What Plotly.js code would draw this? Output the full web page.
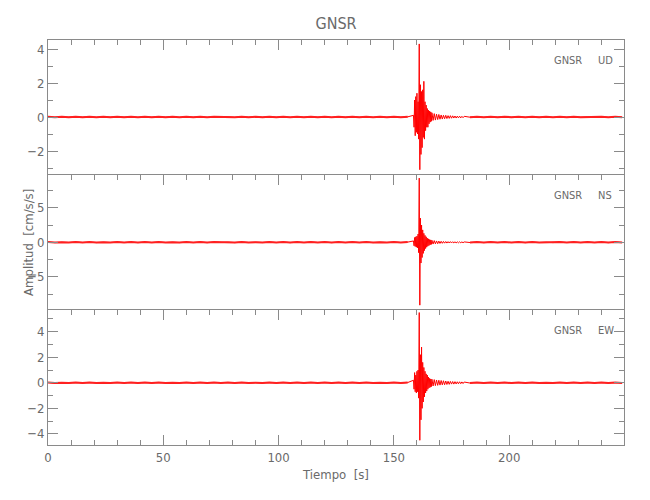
<!DOCTYPE html>
<html>
<head>
<meta charset="utf-8">
<script src="https://cdn.plot.ly/plotly-3.0.1.min.js"></script>
<style>html,body{margin:0;padding:0;background:#fff;} #chart{width:650px;height:500px;}</style>
</head>
<body>
<div id="chart"></div>
<script>
// ---- Data (amplitudes in cm/s/s) ----
// sampling grids: pre-event noise, burst, coda, post-event noise (start, step in s)
var preStart = 0,    preStep = 3;
var burstStart = 158.5, burstStep = 0.25;
var codaStart = 167, codaStep = 0.5;
var postStart = 183, postStep = 3;

var stationName = "GNSR";
var componentNames = ["UD", "NS", "EW"];

// UD component
var udPre = [0.01,-0.02,0.01,-0.01,0.02,-0.01,0.01,-0.02,0.01,-0.01,0.02,-0.01,0.01,-0.02,0.01,-0.01,0.02,-0.01,0.01,-0.02,0.01,-0.01,0.02,-0.02,0.01,-0.01,0.01,-0.02,0.02,-0.01,0.01,-0.01,0.02,-0.01,0.01,-0.02,0.01,-0.01,0.02,-0.01,0.01,-0.02,0.01,-0.01,0.02,-0.01,0.01,-0.02,0.01,-0.01,0.02,-0.01,0.01];
var udBurst = [0.1,-0.6,1.0,-1.1,1.2,-0.9,1.4,-1.0,0.9,-1.3,4.3,-3.1,1.9,-2.2,1.5,-1.8,1.6,-1.2,2.1,-1.3,0.9,-0.8,0.7,-0.6,0.5,-0.6,0.4,-0.4,0.35,-0.3,0.3,-0.25,0.25];
var udCoda = [-0.2,0.2,-0.18,0.17,-0.15,0.15,-0.13,0.12,-0.12,0.1,-0.1,0.1,-0.09,0.08,-0.08,0.08,-0.07,0.07,-0.06,0.06,-0.06,0.05,-0.05,0.05,-0.05,0.04,-0.04,0.04];
var udPost = [-0.01,0.01,-0.02,0.01,-0.01,0.02,-0.01,0.01,-0.02,0.01,-0.01,0.01,-0.02,0.01,-0.01,0.02,-0.01,0.01,-0.01,0.01,-0.02,0.01,-0.01];

// NS component
var nsPre = [0.03,-0.04,0.02,-0.03,0.04,-0.03,0.03,-0.04,0.02,-0.03,0.04,-0.03,0.03,-0.04,0.03,-0.03,0.04,-0.03,0.02,-0.04,0.03,-0.03,0.04,-0.04,0.03,-0.02,0.03,-0.04,0.04,-0.03,0.02,-0.03,0.04,-0.03,0.03,-0.04,0.03,-0.03,0.04,-0.02,0.03,-0.04,0.03,-0.03,0.04,-0.03,0.03,-0.04,0.02,-0.03,0.04,-0.03,0.03];
var nsBurst = [0.2,-0.5,0.7,-0.6,0.8,-0.7,0.9,-0.8,1.2,-1.5,9.3,-9.1,3.5,-3.0,2.5,-2.2,1.8,-1.6,1.3,-1.2,1.0,-0.9,0.8,-0.7,0.6,-0.55,0.5,-0.45,0.4,-0.35,0.35,-0.3,0.3];
var nsCoda = [-0.25,0.25,-0.22,0.2,-0.2,0.18,-0.16,0.15,-0.14,0.13,-0.12,0.12,-0.11,0.1,-0.1,0.1,-0.09,0.09,-0.08,0.08,-0.08,0.07,-0.07,0.07,-0.06,0.06,-0.06,0.06];
var nsPost = [-0.03,0.03,-0.04,0.03,-0.02,0.04,-0.03,0.03,-0.04,0.03,-0.03,0.02,-0.04,0.03,-0.03,0.04,-0.03,0.03,-0.02,0.03,-0.04,0.03,-0.03];

// EW component
var ewPre = [0.02,-0.02,0.01,-0.02,0.02,-0.02,0.02,-0.02,0.01,-0.02,0.02,-0.01,0.02,-0.02,0.02,-0.02,0.02,-0.02,0.01,-0.02,0.02,-0.02,0.02,-0.02,0.02,-0.01,0.02,-0.02,0.02,-0.02,0.01,-0.02,0.02,-0.02,0.02,-0.02,0.02,-0.02,0.02,-0.01,0.02,-0.02,0.02,-0.02,0.02,-0.02,0.02,-0.02,0.01,-0.02,0.02,-0.02,0.02];
var ewBurst = [0.2,-0.5,0.8,-0.7,0.6,-0.8,0.9,-0.7,1.0,-1.2,5.5,-4.5,2.2,-2.9,2.8,-2.0,1.6,-1.5,1.2,-1.1,0.9,-0.8,0.7,-0.65,0.6,-0.5,0.45,-0.4,0.35,-0.35,0.3,-0.3,0.28];
var ewCoda = [-0.25,0.25,-0.22,0.22,-0.2,0.2,-0.18,0.18,-0.16,0.16,-0.15,0.14,-0.13,0.12,-0.12,0.11,-0.1,0.1,-0.1,0.09,-0.09,0.08,-0.08,0.08,-0.07,0.07,-0.06,0.06];
var ewPost = [-0.02,0.02,-0.02,0.02,-0.01,0.02,-0.02,0.02,-0.02,0.02,-0.02,0.01,-0.02,0.02,-0.02,0.02,-0.02,0.02,-0.01,0.02,-0.02,0.02,-0.02];

// ---- assemble traces (time = sample grid) ----
function segment(start, step, vals, tOut, aOut) {
  for (var i = 0; i < vals.length; i++) { tOut.push(start + i * step); aOut.push(vals[i]); }
}
function buildTrace(pre, burst, coda, post) {
  var t = [], a = [];
  segment(preStart, preStep, pre, t, a);
  segment(burstStart, burstStep, burst, t, a);
  segment(codaStart, codaStep, coda, t, a);
  segment(postStart, postStep, post, t, a);
  return {t: t, a: a};
}
function buildNoise(pre, post) {
  var t = [], a = [];
  segment(preStart, preStep, pre, t, a);
  t.push(null); a.push(null);
  segment(postStart, postStep, post, t, a);
  return {t: t, a: a};
}
var comps = [
  buildTrace(udPre, udBurst, udCoda, udPost),
  buildTrace(nsPre, nsBurst, nsCoda, nsPost),
  buildTrace(ewPre, ewBurst, ewCoda, ewPost)
];
var noises = [
  buildNoise(udPre, udPost),
  buildNoise(nsPre, nsPost),
  buildNoise(ewPre, ewPost)
];
// panel order top->bottom: UD (x3/y3), NS (x2/y2), EW (x/y)
var axisIds = [["x3","y3"],["x2","y2"],["x","y"]];

var traces = [];
comps.forEach(function(c, i) {
  traces.push({x: c.t, y: c.a, xaxis: axisIds[i][0], yaxis: axisIds[i][1], type: 'scatter', mode: 'lines',
          line: {color: '#ff0000', width: 1, simplify: false}, hoverinfo: 'skip', showlegend: false});
  var n = noises[i];
  traces.push({x: n.t, y: n.a, xaxis: axisIds[i][0], yaxis: axisIds[i][1], type: 'scatter', mode: 'lines',
          connectgaps: false, line: {color: '#ff2020', width: 2}, hoverinfo: 'skip', showlegend: false});
});

var FONT = '"Liberation Sans Narrow", "DejaVu Sans Condensed", "Roboto", sans-serif';
var GRAY = '#8a8a8a';
var TXT = '#6a6a6a';

function yAx(domain, range, dtick, minorDtick, anchor) {
  return {domain: domain, range: range, anchor: anchor, dtick: dtick, tick0: 0,
          ticks: 'inside', ticklen: 10, tickcolor: GRAY, tickwidth: 1,
          minor: {dtick: minorDtick, tick0: 0, ticks: 'inside', ticklen: 5, tickcolor: GRAY, showgrid: false},
          showline: true, linecolor: GRAY, linewidth: 1, mirror: 'ticks',
          showgrid: false, zeroline: false, tickfont: {family: FONT, size: 13, color: TXT}};
}
function xAx(anchor, bottom) {
  var ax = {range: [0, 249.8], anchor: anchor, dtick: 50, tick0: 0,
          ticks: 'inside', ticklen: 10, tickcolor: GRAY, tickwidth: 1,
          minor: {dtick: 10, tick0: 0, ticks: 'inside', ticklen: 5, tickcolor: GRAY, showgrid: false},
          showline: true, linecolor: GRAY, linewidth: 1,
          showgrid: false, zeroline: false, tickfont: {family: FONT, size: 13, color: TXT}};
  if (bottom) {
    ax.mirror = 'ticks';
    ax.title = {text: 'Tiempo  [s]', font: {family: FONT, size: 13, color: TXT}, standoff: 6};
  } else {
    ax.side = 'top';
    ax.mirror = false;
    ax.showticklabels = false;
    ax.matches = 'x';
  }
  return ax;
}

var d = 1/3;
var layout = {
  width: 650, height: 500,
  margin: {l: 48, r: 26, t: 40, b: 55},
  paper_bgcolor: '#ffffff', plot_bgcolor: '#ffffff',
  title: {text: stationName, x: 0.517, xanchor: 'center', y: 0.953, yanchor: 'middle',
          font: {family: FONT, size: 16, color: TXT}},
  xaxis: xAx('y', true),
  xaxis2: xAx('y2', false),
  xaxis3: xAx('y3', false),
  yaxis: yAx([0, d], [-4.87, 5.7], 2, 1, 'x'),
  yaxis2: yAx([d, 2*d], [-9.8, 9.75], 5, 2.5, 'x2'),
  yaxis3: yAx([2*d, 1], [-3.41, 4.53], 2, 1, 'x3'),
  annotations: [
    {text: 'Amplitud  [cm/s/s]', xref: 'paper', x: -0.034, xanchor: 'center', yref: 'y2 domain', y: 0.5, yanchor: 'middle',
     textangle: -90, showarrow: false, font: {family: FONT, size: 13, color: TXT}}
  ]
};
var yrefs = ['y3 domain', 'y2 domain', 'y domain'];
componentNames.forEach(function(cn, i) {
  layout.annotations.push({text: stationName, xref: 'x', x: 232.5, xanchor: 'right', yref: yrefs[i], y: 0.845, yanchor: 'middle',
    showarrow: false, font: {family: FONT, size: 11, color: TXT}});
  layout.annotations.push({text: cn, xref: 'x', x: 237.5, xanchor: 'left', yref: yrefs[i], y: 0.845, yanchor: 'middle',
    showarrow: false, font: {family: FONT, size: 11, color: TXT}});
});

Plotly.newPlot('chart', traces, layout, {displayModeBar: false, staticPlot: true});
</script>
</body>
</html>
